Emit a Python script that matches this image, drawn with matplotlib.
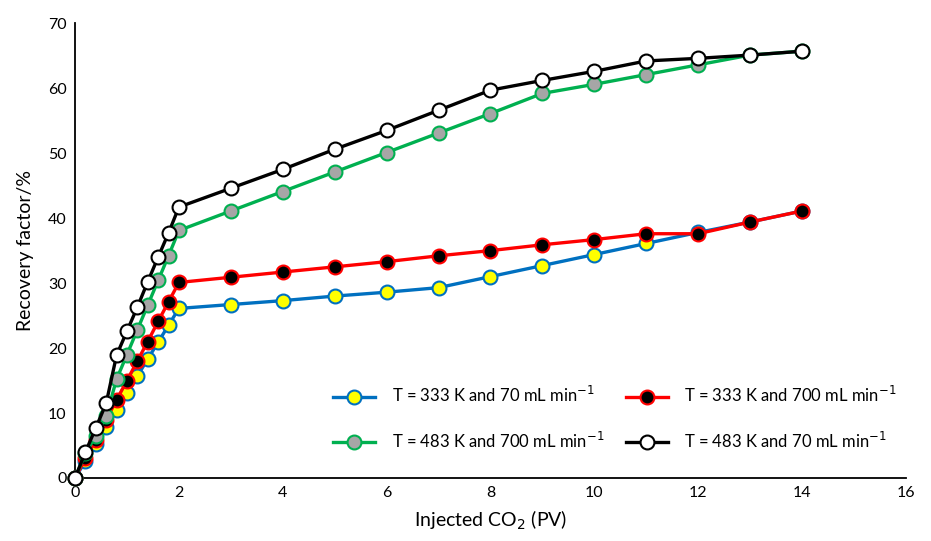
import matplotlib.pyplot as plt

plt.rcParams['font.family'] = ['Lato', 'DejaVu Sans']

# injected CO2 (PV)
pv = [0, 0.2, 0.4, 0.6, 0.8, 1.0, 1.2, 1.4, 1.6, 1.8, 2, 3, 4, 5, 6, 7, 8, 9, 10, 11, 12, 13, 14]

# recovery factor (%) for each run
rf_333_70 = [0, 2.6, 5.2, 7.9, 10.5, 13.1, 15.7, 18.3, 20.9, 23.5, 26.1, 26.7, 27.3, 28.0, 28.6, 29.3,
             31.0, 32.7, 34.4, 36.1, 37.8, 39.4, 41.1]
rf_333_700 = [0, 3.0, 5.9, 9.0, 12.0, 15.0, 18.0, 21.0, 24.1, 27.1, 30.1, 30.9, 31.7, 32.5, 33.3, 34.2,
              35.0, 35.9, 36.7, 37.6, 37.6, 39.4, 41.1]
rf_483_700 = [0, 3.8, 6.5, 9.5, 15.2, 19.0, 22.8, 26.6, 30.4, 34.2, 38.1, 41.1, 44.1, 47.1, 50.1, 53.1,
              56.1, 59.2, 60.6, 62.1, 63.6, 65.1, 65.7]
rf_483_70 = [0, 4.0, 7.7, 11.5, 18.9, 22.6, 26.3, 30.2, 34.0, 37.7, 41.7, 44.6, 47.5, 50.6, 53.5, 56.6,
             59.7, 61.2, 62.6, 64.2, 64.6, 65.1, 65.7]

labels = ['T = 333 K and 70 mL min$^{-1}$', 'T = 333 K and 700 mL min$^{-1}$',
          'T = 483 K and 700 mL min$^{-1}$', 'T = 483 K and 70 mL min$^{-1}$']

fig = plt.figure(figsize=(9.31, 5.41), dpi=100)
ax = fig.add_axes([0.0806, 0.1165, 0.8924, 0.8405])

style = dict(lw=2.4, marker='o', ms=10, mew=1.5, clip_on=False, zorder=3)
l1, = ax.plot(pv, rf_333_70, color='#0070C0', mfc='#FFFF00', mec='#0070C0', label=labels[0], **style)
l2, = ax.plot(pv, rf_333_700, color='#FF0000', mfc='black', mec='#FF0000', label=labels[1], **style)
l3, = ax.plot(pv, rf_483_700, color='#00B050', mfc='#A6A6A6', mec='#00B050', label=labels[2], **style)
l4, = ax.plot(pv, rf_483_70, color='black', mfc='white', mec='black', label=labels[3], **style)

ax.set_xlim(0, 16)
ax.set_ylim(0, 70)
ax.set_xticks(range(0, 17, 2))
ax.set_yticks(range(0, 71, 10))
ax.tick_params(length=0, labelsize=11.5, pad=6)
for s in ['top', 'right']:
    ax.spines[s].set_visible(False)
for s in ['left', 'bottom']:
    ax.spines[s].set_linewidth(1.3)

ax.set_xlabel('Injected CO$_2$ (PV)', fontsize=14, labelpad=6)
ax.set_ylabel('Recovery factor/%', fontsize=14, labelpad=10)

ax.legend(handles=[l1, l3, l2, l4], ncol=2, frameon=False, fontsize=12,
          loc='center', bbox_to_anchor=(0.65, 0.132), columnspacing=1.3,
          handlelength=2.5, handletextpad=1.0, labelspacing=1.5)

fig.savefig('out.png', dpi=100)
